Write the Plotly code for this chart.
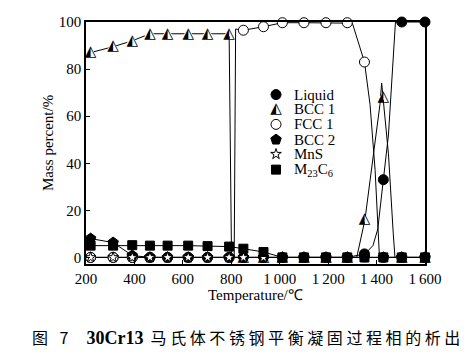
import plotly.graph_objects as go

# ---------------- data ----------------
T = [219, 312, 391, 464, 537, 622, 702, 791, 850, 933, 1011, 1100, 1191, 1279, 1350, 1428, 1504, 1600]
liquid = [0, 0, 0, 0, 0, 0, 0, 0, 0, 0, 0, 0, 0, 0, 1.5, 33, 100, 100]
bcc1 = [87, 89.5, 92, 95, 95, 95, 95, 95, 0, 0, 0, 0, 0, 0, 16, 68, 0, 0]
fcc1 = [0, 0, 0, 0, 0, 0, 0, 0, 96.5, 98, 99.7, 99.7, 99.7, 99.7, 83, 0, 0, 0]
bcc2 = [8, 6.3, 0.8, 0, 0, 0, 0, 0, 0, 0, 0, 0, 0, 0, 0, 0, 0, 0]
mns = [0, 0, 0, 0, 0, 0, 0, 0, 0, 0, None, None, None, None, None, None, None, None]
m23c6 = [5, 5, 5.2, 5, 5, 5, 4.8, 4.6, 3.7, 2.3, 0, 0, 0, 0, 0, 0, 0, 0]

# calculated equilibrium curves (lines, denser than the symbols)
liquid_line_T = [219, 1279, 1352, 1385, 1405, 1418, 1428, 1449, 1478, 1504, 1600]
liquid_line_v = [0, 0, 1.5, 5, 12, 25, 33, 52, 100, 100, 100]
bcc1_line_T = [219, 312, 391, 464, 537, 622, 702, 791, 801, 1318, 1352, 1387, 1414, 1421, 1449, 1469, 1476, 1600]
bcc1_line_v = [87, 89.5, 92, 95, 95, 95, 95, 95, 0, 0, 16, 44, 65, 74, 44, 10, 0, 0]
fcc1_line_T = [219, 791, 812, 818, 850, 933, 1011, 1100, 1191, 1279, 1300, 1350, 1373, 1394, 1407, 1412, 1600]
fcc1_line_v = [0, 0, 0, 97, 96.5, 98, 99.7, 99.7, 99.7, 99.7, 99.5, 83, 65, 37, 10, 0, 0]
bcc2_line_T = [219, 312, 391, 464, 1600]
bcc2_line_v = [8, 6.3, 0.8, 0, 0]
mns_line_T = [219, 1600]
mns_line_v = [0, 0]
m23c6_line_T = [219, 312, 391, 464, 537, 622, 702, 791, 850, 933, 1011, 1600]
m23c6_line_v = [5, 5, 5.2, 5, 5, 5, 4.8, 4.6, 3.7, 2.3, 0, 0]

x_tickvals = [200, 400, 600, 800, 1000, 1200, 1400, 1600]
x_ticktext = ["200", "400", "600", "800", "1\u2009000", "1\u2009200", "1\u2009400", "1\u2009600"]
y_tickvals = [0, 20, 40, 60, 80, 100]

legend_names = ["Liquid", "BCC 1", "FCC 1", "BCC 2", "MnS", "M<sub>23</sub>C<sub>6</sub>"]

SERIF = "Liberation Serif, Times New Roman, serif"
HALF_TRI = "\u25ED"  # up-pointing triangle with left half black

fig = go.Figure()

# lines first
for lx, ly in [(liquid_line_T, liquid_line_v), (bcc1_line_T, bcc1_line_v),
               (fcc1_line_T, fcc1_line_v), (bcc2_line_T, bcc2_line_v),
               (mns_line_T, mns_line_v), (m23c6_line_T, m23c6_line_v)]:
    fig.add_trace(go.Scatter(x=lx, y=ly, mode="lines",
                             line=dict(color="black", width=1), showlegend=False,
                             hoverinfo="skip"))

styles = [
    dict(symbol="circle", size=10, color="black", line=dict(color="black", width=1)),
    None,  # half-filled triangle drawn with a glyph
    dict(symbol="circle", size=10, color="white", line=dict(color="black", width=1)),
    dict(symbol="pentagon", size=11, color="black", line=dict(color="black", width=1)),
    dict(symbol="star", size=8, color="white", line=dict(color="black", width=1)),
    dict(symbol="square", size=9, color="black", line=dict(color="black", width=1)),
]
series = [liquid, bcc1, fcc1, bcc2, mns, m23c6]


def add_symbol(xs, ys, st, xaxis="x", yaxis="y"):
    if st is None:
        fig.add_trace(go.Scatter(x=xs, y=ys, mode="markers+text", text=[HALF_TRI] * len(xs),
                                 textposition="middle center",
                                 textfont=dict(size=15, family="DejaVu Sans", color="black"),
                                 marker=dict(symbol="triangle-up", size=10, color="white",
                                             line=dict(width=0)),
                                 xaxis=xaxis, yaxis=yaxis, showlegend=False, cliponaxis=False))
    else:
        fig.add_trace(go.Scatter(x=xs, y=ys, mode="markers", marker=st,
                                 xaxis=xaxis, yaxis=yaxis, showlegend=False, cliponaxis=False))


for vals, st in zip(series, styles):
    add_symbol(T, vals, st)

# legend swatches on an overlay axis (paper-like 0..1)
leg_x = 0.5605
leg_y = [0.700, 0.641, 0.577, 0.514, 0.454, 0.390]
for i, st in enumerate(styles):
    add_symbol([leg_x], [leg_y[i]], st, "x2", "y2")
    fig.add_annotation(x=0.6077, y=leg_y[i], xref="paper", yref="paper",
                       text=legend_names[i], showarrow=False, xanchor="left",
                       yanchor="middle", font=dict(family=SERIF, size=15, color="black"))

axis_common = dict(showline=True, linecolor="black", linewidth=1.6, mirror=True,
                   ticks="inside", ticklen=4, tickcolor="black", showgrid=False,
                   zeroline=False, tickfont=dict(family=SERIF, size=15, color="black"))

# the page body adds an 8 px offset; margins compensate so the plot lands where the reference has it
fig.update_layout(
    width=466, height=347,
    margin=dict(l=78, r=49, t=6, b=91),
    paper_bgcolor="white", plot_bgcolor="white",
    showlegend=False,
    xaxis=dict(range=[200, 1600], tickvals=x_tickvals, ticktext=x_ticktext,
               ticklabelstandoff=0, **axis_common),
    yaxis=dict(range=[-2.8, 100], tickvals=y_tickvals, ticklabelstandoff=0, **axis_common),
    xaxis2=dict(range=[0, 1], overlaying="x", visible=False, fixedrange=True),
    yaxis2=dict(range=[0, 1], overlaying="y", visible=False, fixedrange=True),
)

fig.add_annotation(x=0.5, y=-0.128, xref="paper", yref="paper", text="Temperature/\u2103",
                   showarrow=False, xanchor="center", yanchor="middle",
                   font=dict(family=SERIF, size=15, color="black"))
fig.add_annotation(x=-0.112, y=0.5, xref="paper", yref="paper", text="Mass percent/%",
                   showarrow=False, textangle=-90, xanchor="center", yanchor="middle",
                   font=dict(family=SERIF, size=15, color="black"))

cap_cn = " ".join("马氏体不锈钢平衡凝固过程相的析出")
caption = ("图\u2002 7" + "\u00a0" * 5 +
           "<span style='font-family:Liberation Serif;font-size:18px'><b>30Cr13</b></span>" +
           "\u00a0\u00a0" + cap_cn)
fig.add_annotation(x=-0.1652, y=-0.30, xref="paper", yref="paper", text=caption,
                   showarrow=False, xanchor="left", yanchor="middle",
                   font=dict(family="Noto Sans CJK SC", size=16, color="black"))

fig.write_html("out.html")
